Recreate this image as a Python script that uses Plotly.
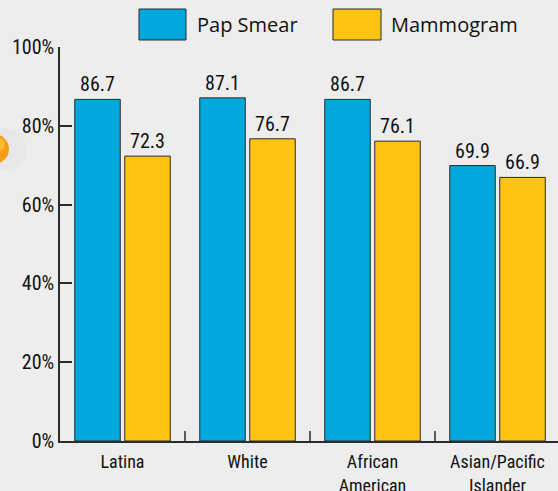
import plotly.graph_objects as go

# Screening rates by race/ethnicity (%)
groups = ["Latina", "White", "African<br>American", "Asian/Pacific<br>Islander"]
pap_smear = [86.7, 87.1, 86.7, 69.9]
mammogram = [72.3, 76.7, 76.1, 66.9]
y_ticks = [0, 20, 40, 60, 80, 100]
y_tick_labels = ["0%", "20%", "40%", "60%", "80%", "100%"]
series_names = ["Pap Smear", "Mammogram"]

BLUE = "#00a8de"
YELLOW = "#ffc312"
EDGE = "#2b2b2b"
BG = "#ededed"
NARROW = "Roboto Condensed, sans-serif"
REGULAR = "Open Sans, Noto Sans, sans-serif"

W, H = 558, 491
L, R, T, B = 60, 0, 47, 50


def px_x(p):
    """pixel x -> paper x"""
    return (p - L) / (W - L - R)


def px_y(p):
    """pixel y -> paper y"""
    return (H - B - p) / (H - T - B)


fig = go.Figure()
for name, vals, color in [(series_names[0], pap_smear, BLUE), (series_names[1], mammogram, YELLOW)]:
    fig.add_trace(go.Bar(
        x=groups, y=vals, name=name,
        marker=dict(color=color, line=dict(color=EDGE, width=1)),
        text=[f"{v:.1f}" for v in vals],
        textposition="outside",
        textfont=dict(family=NARROW, size=20, color="#111"),
        cliponaxis=False,
        showlegend=False,
    ))

fig.update_layout(
    width=W, height=H,
    margin=dict(l=L, r=R, t=T, b=B),
    paper_bgcolor=BG, plot_bgcolor=BG,
    barmode="group", bargap=0.2, bargroupgap=0.09,
    font=dict(family=NARROW, size=20, color="#111"),
)

fig.update_xaxes(
    range=[-0.5, 3.484],
    showline=True, linecolor=EDGE, linewidth=1.5,
    ticks="", showgrid=False, zeroline=False,
    ticklabelstandoff=4, automargin=False,
    tickfont=dict(family=NARROW, size=18, color="#111"),
)
fig.update_yaxes(
    range=[0, 100],
    tickvals=y_ticks, ticktext=y_tick_labels,
    showline=True, linecolor=EDGE, linewidth=1.5,
    ticks="inside", ticklen=12, tickwidth=1.5, tickcolor=EDGE,
    showgrid=False, zeroline=False, automargin=False,
    tickfont=dict(family=NARROW, size=20, color="#111"),
)

# category separator ticks on the x axis
for b in [0.5, 1.5, 2.5]:
    fig.add_shape(type="line", xref="x", yref="paper", x0=b, x1=b, y0=0, y1=10 / (H - T - B),
                  line=dict(color=EDGE, width=1.5))

# legend drawn with big swatches
legend_items = [(series_names[0], BLUE, 139, 186, 195), (series_names[1], YELLOW, 333, 381, 389)]
for name, color, x0, x1, tx in legend_items:
    fig.add_shape(type="rect", xref="paper", yref="paper",
                  x0=px_x(x0), x1=px_x(x1), y0=px_y(40), y1=px_y(9),
                  fillcolor=color, line=dict(color=EDGE, width=1))
    fig.add_annotation(text=name, xref="paper", yref="paper", x=px_x(tx), y=px_y(24),
                       xanchor="left", yanchor="middle", showarrow=False,
                       font=dict(family=REGULAR, size=20, color="#111"))

# decorative orange ball at left edge
fig.add_shape(type="circle", xref="paper", yref="paper",
              x0=px_x(-16), x1=px_x(26), y0=px_y(170), y1=px_y(128),
              fillcolor="rgba(150,150,150,0.07)", line=dict(width=0))
fig.add_shape(type="circle", xref="paper", yref="paper",
              x0=px_x(-22), x1=px_x(9), y0=px_y(164), y1=px_y(134),
              fillcolor="#f59a14", line=dict(width=0))
fig.add_shape(type="circle", xref="paper", yref="paper",
              x0=px_x(-12), x1=px_x(5), y0=px_y(152), y1=px_y(137),
              fillcolor="#fbb932", line=dict(width=0))

fig.write_html("out.html", config={"displayModeBar": False},
               post_script="document.body.style.margin='0';")
